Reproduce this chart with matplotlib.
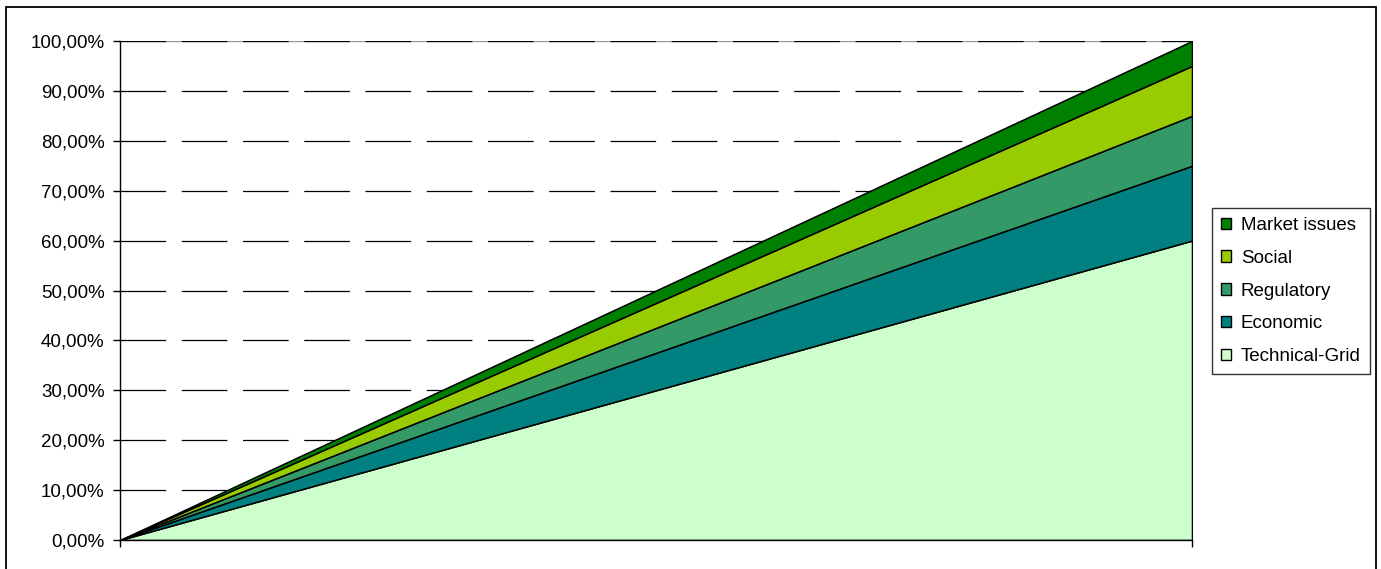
import matplotlib
matplotlib.use("Agg")
import matplotlib.pyplot as plt
from matplotlib.patches import Patch, Rectangle
import numpy as np

plt.rcParams['font.family'] = ['Liberation Sans', 'DejaVu Sans']

categories = [0, 1]
series_names = ["Technical-Grid", "Economic", "Regulatory", "Social", "Market issues"]
technical_grid = [0.0, 60.0]
economic = [0.0, 15.0]
regulatory = [0.0, 10.0]
social = [0.0, 10.0]
market_issues = [0.0, 5.0]
colors = ["#CCFFCC", "#008080", "#339966", "#99CC00", "#008000"]
y_ticks = [0, 10, 20, 30, 40, 50, 60, 70, 80, 90, 100]
y_tick_labels = ["0,00%", "10,00%", "20,00%", "30,00%", "40,00%", "50,00%",
                 "60,00%", "70,00%", "80,00%", "90,00%", "100,00%"]

FS = 13.5
W, H = 1381, 569
fig = plt.figure(figsize=(W / 100, H / 100), dpi=100)
ax = fig.add_axes([120 / W, 1 - 540 / H, (1192 - 120) / W, (540 - 41) / H])

# outer chart border
fig.patches.append(Rectangle((6 / W, -0.05), (1376 - 6) / W, 1.05 - 7 / H,
                             transform=fig.transFigure, fill=False,
                             edgecolor="black", linewidth=1.3))

# gridlines
ax.axhline(100, color="#999999", linewidth=1, zorder=0)
for t in y_ticks[1:]:
    ln = ax.axhline(t, color="black", linewidth=0.9, zorder=0.5)
    ln.set_dashes((36.5, 12.5))

ax.stackplot(categories, technical_grid, economic, regulatory, social, market_issues,
             colors=colors, edgecolor="black", linewidth=1.1, zorder=2)

ax.set_xlim(0, 1)
ax.set_ylim(0, 100)
ax.set_yticks(y_ticks)
ax.set_yticklabels(y_tick_labels, fontsize=FS)
ax.set_xticks([0, 1])
ax.set_xticklabels(["", ""])
ax.tick_params(axis="y", direction="out", length=5, width=1, pad=6, colors="black")
ax.tick_params(axis="x", direction="out", length=5, width=1)
for s in ["top", "right"]:
    ax.spines[s].set_visible(False)
ax.spines["left"].set_linewidth(1)
ax.spines["bottom"].set_linewidth(1)
ax.spines["left"].set_zorder(3)
ax.spines["bottom"].set_zorder(3)
ax.patch.set_alpha(0)

handles = [Patch(facecolor=c, edgecolor="black", linewidth=1) for c in colors][::-1]
labels = series_names[::-1]
leg = fig.legend(handles, labels, loc="upper left",
                 bbox_to_anchor=(1212 / W, 1 - 208 / H), bbox_transform=fig.transFigure,
                 borderaxespad=0, fontsize=FS, frameon=True, fancybox=False,
                 edgecolor="black", handlelength=0.55, handleheight=0.55,
                 handletextpad=0.5, labelspacing=0.84, borderpad=0.48)
leg.get_frame().set_linewidth(1)

fig.savefig("out.png", dpi=100)
